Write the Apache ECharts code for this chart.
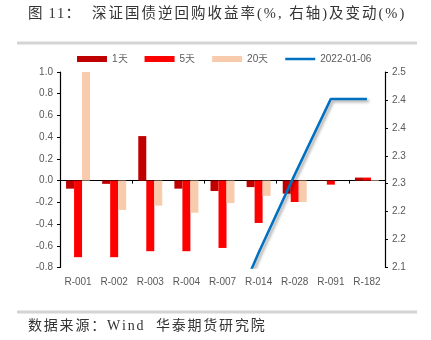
<!DOCTYPE html>
<html><head><meta charset="utf-8">
<script src="https://cdn.jsdelivr.net/npm/echarts@6/dist/echarts.min.js"></script>
<style>html,body{margin:0;padding:0;background:#fff}#c{width:431px;height:340px}</style>
</head><body><div id="c"></div>
<script>
var categories = ['R-001','R-002','R-003','R-004','R-007','R-014','R-028','R-091','R-182'];
var chg1d  = [-0.074,-0.03, 0.41,-0.074,-0.096,-0.06,-0.12,-0.003, 0.028];
var chg5d  = [-0.705,-0.705,-0.65,-0.65,-0.62,-0.39,-0.197,-0.037, 0.028];
var chg20d = [1.01,-0.27,-0.23,-0.295,-0.207,-0.14,-0.197, 0.0, 0.005];
var yield0106 = [1.80,1.85,1.90,1.92,1.96,2.13,2.29,2.445,2.445];
var seriesNames = ['1天','5天','20天','2022-01-06'];
var leftTicks = {min:-0.8, max:1.0, interval:0.2};
var rightTicks = {min:2.1, max:2.5, interval:0.4/7};
var titleLabel = '图 11：';
var titleText = '深证国债逆回购收益率(%, 右轴)及变动(%)';
var sourceText = '数据来源：Wind  华泰期货研究院';

var chart = echarts.init(document.getElementById('c'), null, {renderer:'canvas'});
var lab = {color:'#595959', fontSize:10, fontFamily:'Liberation Sans, Arial, sans-serif'};
var serifCJK = "'Liberation Serif','Noto Sans CJK SC',serif";

// helper: place text with letter spacing
var mctx = document.createElement('canvas').getContext('2d');
function spaced(text, x, y, size, spacing, fill){
  var els = [];
  mctx.font = size + 'px ' + serifCJK;
  for (var i=0;i<text.length;i++){
    var ch = text[i];
    els.push({type:'text', x:x, y:y, style:{text:ch, fontSize:size, fill:fill, fontFamily:serifCJK, textVerticalAlign:'top'}});
    x += mctx.measureText(ch).width + spacing;
  }
  return els;
}

var graphics = [
  {type:'rect', shape:{x:17, y:41.5, width:400, height:3}, style:{fill:'#d4d4d4'}},
  {type:'rect', shape:{x:17, y:310.5, width:400, height:3}, style:{fill:'#d4d4d4'}}
].concat(spaced(titleLabel, 28, 7, 14.5, 1.2, '#333'))
 .concat(spaced(titleText, 92, 7, 14.5, 2.0, '#333'))
 .concat(spaced(sourceText, 28, 319, 14, 1.8, '#333'));

chart.setOption({
  animation:false,
  grid:{left:60, right:46, top:72, bottom:72.5},
  legend:{
    top:49, left:72, itemWidth:30, itemHeight:6, itemGap:17,
    textStyle:{color:'#595959', fontSize:10, fontFamily:'Liberation Sans, Arial, sans-serif'},
    data:[{name:seriesNames[0],icon:'rect'},{name:seriesNames[1],icon:'rect'},{name:seriesNames[2],icon:'rect'},
          {name:seriesNames[3],icon:'path://M0,0H30V2.5H0Z'}]
  },
  xAxis:[
    {type:'category', data:categories, position:'bottom',
     axisLine:{show:false, onZero:false}, axisTick:{show:false},
     axisLabel:Object.assign({margin:10, interval:0}, lab)},
    {type:'category', data:categories, position:'bottom',
     axisLine:{show:true, onZero:true, onZeroAxisIndex:0, lineStyle:{color:'#000', width:1.2}},
     axisTick:{show:true, length:3, lineStyle:{color:'#000'}},
     axisLabel:{show:false}}
  ],
  yAxis:[
    {type:'value', min:leftTicks.min, max:leftTicks.max, interval:leftTicks.interval,
     splitLine:{show:false},
     axisLine:{show:true, lineStyle:{color:'#000', width:1.2}},
     axisTick:{show:true, length:3, lineStyle:{color:'#000'}},
     axisLabel:Object.assign({margin:7, formatter:function(v){return v.toFixed(1);}}, lab)},
    {type:'value', min:rightTicks.min, max:rightTicks.max, interval:rightTicks.interval,
     splitLine:{show:false},
     axisLine:{show:true, lineStyle:{color:'#000', width:1.2}},
     axisTick:{show:true, length:3, lineStyle:{color:'#000'}},
     axisLabel:Object.assign({margin:7, formatter:function(v){return v.toFixed(1);}}, lab)}
  ],
  series:[
    {name:seriesNames[0], type:'bar', data:chg1d, barWidth:8, barGap:'0%', itemStyle:{color:'#C00000'}},
    {name:seriesNames[1], type:'bar', data:chg5d, barWidth:8, barGap:'0%', itemStyle:{color:'#FF0000'}},
    {name:seriesNames[2], type:'bar', data:chg20d, barWidth:8, barGap:'0%', itemStyle:{color:'#F8CBAD'}},
    {name:seriesNames[3], type:'line', yAxisIndex:1, data:yield0106, symbol:'none', clip:true, z:5,
     itemStyle:{color:'#0070C0'},
     lineStyle:{color:'#0070C0', width:2.5, shadowColor:'rgba(0,0,0,0.35)', shadowBlur:3, shadowOffsetX:2, shadowOffsetY:2}}
  ],
  graphic:graphics
});
</script></body></html>
